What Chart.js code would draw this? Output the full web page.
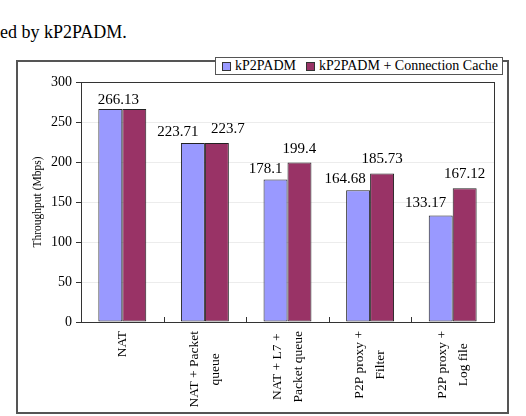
<!DOCTYPE html>
<html lang="en">
<head>
  <meta charset="UTF-8" />
  <title>kP2PADM Throughput</title>
  <script src="https://cdn.jsdelivr.net/npm/chart.js"></script>
  <style>
    body { margin: 0; background: #fff; font-family: 'Liberation Serif', 'Times New Roman', serif; }
    #wrap { position: relative; width: 526px; height: 416px; overflow: hidden; }
    #caption { position: absolute; left: 0; top: 23px; font-size: 18px; line-height: 18px; color: #000; white-space: nowrap; }
    #frame { position: absolute; left: 16px; top: 60px; width: 489px; height: 350px; border: 2px solid #555; }
    #chart { position: absolute; left: 0; top: 0; }
    #legend { position: absolute; left: 215px; top: 57px; width: 280px; height: 16px; border: 1px solid #555; background: #fff;
              display: flex; align-items: center; font-size: 14px; color: #000; padding-left: 6px; box-sizing: content-box; }
    #legend .sw { width: 9px; height: 9px; box-sizing: border-box; border: 1px solid #333; margin-right: 4px; }
    #legend .item { display: flex; align-items: center; margin-right: 10px; white-space: nowrap; }
  </style>
</head>
<body>
  <div id="wrap">
    <div id="caption">ed by kP2PADM.</div>
    <div id="frame"></div>
    <canvas id="chart" width="526" height="416"></canvas>
    <div id="legend"></div>
  </div>

  <script>
    // data
    const categories = [
      ['NAT'],
      ['NAT + Packet', 'queue'],
      ['NAT + L7 +', 'Packet queue'],
      ['P2P proxy +', 'Filter'],
      ['P2P proxy +', 'Log file']
    ];
    const seriesNames = ['kP2PADM', 'kP2PADM + Connection Cache'];
    const kp2padm = [266.13, 223.71, 178.1, 164.68, 133.17];
    const withCache = [266.13, 223.7, 199.4, 185.73, 167.12];
    const yMin = 0, yMax = 300, yStep = 50;

    const colors = ['#9999FF', '#993366'];
    const serif = "'Liberation Serif', 'Times New Roman', serif";

    // value label nudges (px) so labels sit like in the original
    const labelShift = [
      { dx: [8, -15, -10, -13, -15], dy: [5, 7, 7, 7, 8] },
      { dx: [0, 11, 0, 0, 0], dy: [10, 10, 9, 10, 10] }
    ];

    // html legend
    const legend = document.getElementById('legend');
    seriesNames.forEach((name, i) => {
      const item = document.createElement('div');
      item.className = 'item';
      item.innerHTML = `<span class="sw" style="background:${colors[i]}"></span><span>${name}</span>`;
      legend.appendChild(item);
    });

    const extras = {
      id: 'extras',
      afterDraw(chart) {
        const ctx = chart.ctx;
        const area = chart.chartArea;
        const xs = chart.scales.x;

        ctx.save();
        // plot box
        ctx.strokeStyle = '#333';
        ctx.lineWidth = 1;
        ctx.strokeRect(Math.round(area.left) + 0.5, Math.round(area.top) + 0.5,
                       Math.round(area.right - area.left), Math.round(area.bottom - area.top));

        // small inner tick marks between categories
        ctx.beginPath();
        for (let i = 0; i < categories.length - 1; i++) {
          const x = Math.round(xs.getPixelForValue(i + 0.5)) + 0.5;
          ctx.moveTo(x, area.bottom);
          ctx.lineTo(x, area.bottom - 5);
        }
        ctx.stroke();

        // rotated category labels, centred lines
        ctx.fillStyle = '#000';
        ctx.font = '13.5px ' + serif;
        ctx.textAlign = 'center';
        ctx.textBaseline = 'middle';
        const top = area.bottom + 9;
        categories.forEach((lines, i) => {
          const x = xs.getPixelForValue(i);
          const maxW = Math.max(...lines.map(l => ctx.measureText(l).width));
          ctx.save();
          ctx.translate(x, top);
          ctx.rotate(-Math.PI / 2);
          lines.forEach((l, k) => {
            const v = (k - (lines.length - 1) / 2) * 21;
            ctx.fillText(l, -maxW / 2, v);
          });
          ctx.restore();
        });

        // value labels
        ctx.font = '15px ' + serif;
        ctx.textBaseline = 'alphabetic';
        const sets = chart.data.datasets;
        sets.forEach((ds, d) => {
          const meta = chart.getDatasetMeta(d);
          meta.data.forEach((bar, i) => {
            // same value twice -> Excel shows it only once
            if (d > 0 && ds.data[i] === sets[0].data[i]) return;
            ctx.fillText(String(ds.data[i]), bar.x + labelShift[d].dx[i], bar.y - labelShift[d].dy[i]);
          });
        });
        ctx.restore();
      }
    };

    new Chart(document.getElementById('chart').getContext('2d'), {
      type: 'bar',
      data: {
        labels: categories,
        datasets: [
          { label: seriesNames[0], data: kp2padm, backgroundColor: colors[0], borderColor: '#222', borderWidth: 1, borderSkipped: false },
          { label: seriesNames[1], data: withCache, backgroundColor: colors[1], borderColor: '#222', borderWidth: 1, borderSkipped: false }
        ]
      },
      options: {
        responsive: false,
        animation: false,
        layout: { padding: { left: 0, top: 82, right: 32, bottom: 0 } },
        datasets: { bar: { categoryPercentage: 0.58, barPercentage: 1 } },
        plugins: { legend: { display: false }, tooltip: { enabled: false } },
        scales: {
          x: {
            ticks: { display: false },
            grid: { display: false },
            border: { display: false },
            afterFit: s => { s.height = 94; }
          },
          y: {
            min: yMin,
            max: yMax,
            ticks: { stepSize: yStep, color: '#000', padding: 4, font: { family: serif, size: 14 } },
            grid: { color: '#ececec', tickColor: '#333', tickLength: 5 },
            border: { color: '#333' },
            title: {
              display: true,
              text: 'Throughput (Mbps)',
              color: '#000',
              font: { family: serif, size: 11.5 },
              padding: { top: 31, bottom: 0 }
            },
            afterFit: s => { s.width = 81; }
          }
        }
      },
      plugins: [extras]
    });
  </script>
</body>
</html>
